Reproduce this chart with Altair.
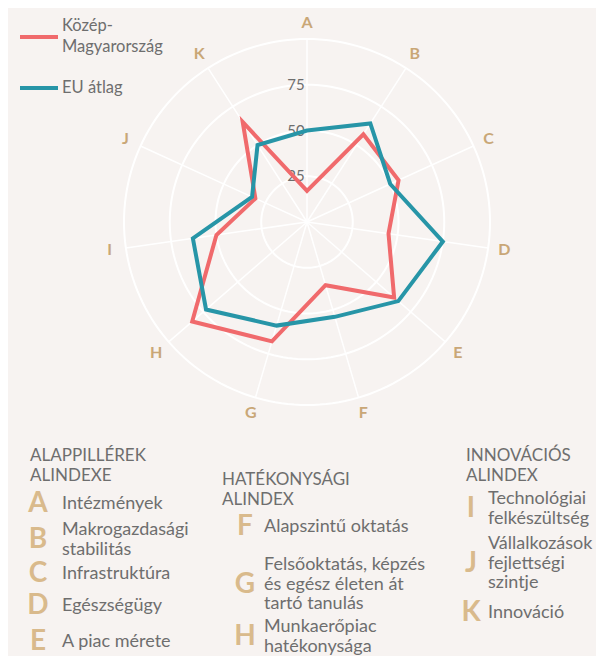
import altair as alt
import pandas as pd

# ---------------- data ----------------
categories = ["A", "B", "C", "D", "E", "F", "G", "H", "I", "J", "K"]
series_names = ["Közép-Magyarország", "EU átlag"]
kozep_values = [17, 57, 55, 45, 63, 36, 68, 83, 50, 31, 65]
eu_values = [50, 64, 50, 75, 66, 54, 59, 73, 63, 33, 50]
ring_values = [25, 50, 75, 100]
tick_values = [25, 50, 75]
tick_labels = ["25", "50", "75"]

group_titles = ["ALAPPILLÉREK\nALINDEXE", "HATÉKONYSÁGI\nALINDEX", "INNOVÁCIÓS\nALINDEX"]
item_texts = [
    "Intézmények",
    "Makrogazdasági\nstabilitás",
    "Infrastruktúra",
    "Egészségügy",
    "A piac mérete",
    "Alapszintű oktatás",
    "Felsőoktatás, képzés\nés egész életen át\ntartó tanulás",
    "Munkaerőpiac\nhatékonysága",
    "Technológiai\nfelkészültség",
    "Vállalkozások\nfejlettségi\nszintje",
    "Innováció",
]
item_groups = [0, 0, 0, 0, 0, 1, 1, 1, 2, 2, 2]

# ---------------- style / layout ----------------
FONT = "Lato"
BG = "#f7f3f1"
RED = "#f06a6c"
TEAL = "#2795a7"
TAN = "#c9a777"
TAN_BIG = "#d9ba8c"
GRAY = "#6e6e6e"
M = 8                      # page margin
W, TOP_H, BOT_H = 588, 432, 216
CX, CY = 307 - M, 222 - M  # radar centre inside top panel
PPU = 1.83                 # pixels per value unit
LABEL_R = 109
x_dom = [-CX / PPU, (W - CX) / PPU]
y_dom = [-(TOP_H - CY) / PPU, CY / PPU]
xs = alt.Scale(domain=x_dom, nice=False, zero=False)
ys = alt.Scale(domain=y_dom, nice=False, zero=False)

# legend layout (page pixels)
LEG_X1, LEG_X2, LEG_TX = 20, 58, 62
leg_line_y = [37, 88]
leg_text_y = [26, 88]
LEG_LH = 21

# bottom block layout (page pixels, first text line)
header_x = [30, 222, 466]
header_y = [456, 480, 456]
letter_x = [38, 245, 471]
text_x = [62, 264, 488]
item_first_y = [504, 530, 574, 606, 642, 527, 565, 627, 499, 544, 613]
HEAD_LH = 20
DESC_LH = 19.5

n = len(categories)
ANG = f"datum.idx * 2 * PI / {n}"


def ux(px):
    return (px - M - CX) / PPU


def uy(py):
    return (CY - (py - M)) / PPU


# ---------------- radar ----------------
line_df = pd.DataFrame({
    "series": [s for s in series_names for _ in categories],
    "cat": categories * 2,
    "idx": list(range(n)) * 2,
    "value": kozep_values + eu_values,
})
cat_df = pd.DataFrame({"cat": categories, "idx": list(range(n))})
ring_df = pd.DataFrame(
    [(r, d) for r in ring_values for d in range(0, 360, 2)], columns=["ring", "deg"]
)
tick_df = pd.DataFrame({"value": tick_values, "label": tick_labels})

color_scale = alt.Scale(domain=series_names, range=[RED, TEAL])

rings = alt.Chart(ring_df).transform_calculate(
    a="datum.deg * PI / 180",
    x="datum.ring * sin(datum.a)",
    y="datum.ring * cos(datum.a)",
).mark_line(interpolate="linear-closed", color="white", strokeWidth=2).encode(
    x=alt.X("x:Q", scale=xs, axis=None),
    y=alt.Y("y:Q", scale=ys, axis=None),
    detail="ring:N",
    order="deg:Q",
)

spokes = alt.Chart(cat_df).transform_calculate(
    a=ANG,
    x0="0",
    y0="0",
    x2=f"{max(ring_values)} * sin(datum.a)",
    y2=f"{max(ring_values)} * cos(datum.a)",
).mark_rule(color="white", strokeWidth=1.5).encode(
    x=alt.X("x0:Q", scale=xs, axis=None),
    y=alt.Y("y0:Q", scale=ys, axis=None),
    x2="x2:Q",
    y2="y2:Q",
)

lines = alt.Chart(line_df).transform_calculate(
    a=ANG,
    x="datum.value * sin(datum.a)",
    y="datum.value * cos(datum.a)",
).mark_line(interpolate="linear-closed", strokeWidth=4).encode(
    x=alt.X("x:Q", scale=xs, axis=None),
    y=alt.Y("y:Q", scale=ys, axis=None),
    color=alt.Color("series:N", scale=color_scale, legend=None),
    order="idx:Q",
)

cat_labels = alt.Chart(cat_df).transform_calculate(
    a=ANG,
    x=f"{LABEL_R} * sin(datum.a)",
    y=f"{LABEL_R} * cos(datum.a)",
).mark_text(font=FONT, fontSize=16, fontWeight="bold", color=TAN, align="center", baseline="middle").encode(
    x=alt.X("x:Q", scale=xs, axis=None),
    y=alt.Y("y:Q", scale=ys, axis=None),
    text="cat:N",
)

ticks = alt.Chart(tick_df).transform_calculate(x0="0").mark_text(
    font=FONT, fontSize=15, color=GRAY, align="center", baseline="middle", dx=-11
).encode(
    x=alt.X("x0:Q", scale=xs, axis=None),
    y=alt.Y("value:Q", scale=ys, axis=None),
    text="label:N",
)

# legend (drawn with the same colour scale)
leg_df = pd.DataFrame({
    "series": series_names,
    "label": [s.replace("-", "-\n") for s in series_names],
    "x1": [ux(LEG_X1)] * len(series_names),
    "x2": [ux(LEG_X2)] * len(series_names),
    "xt": [ux(LEG_TX)] * len(series_names),
    "yl": [uy(v) for v in leg_line_y],
    "yt": [uy(v) for v in leg_text_y],
})
leg_lines = alt.Chart(leg_df).mark_rule(strokeWidth=4).encode(
    x=alt.X("x1:Q", scale=xs, axis=None),
    x2="x2:Q",
    y=alt.Y("yl:Q", scale=ys, axis=None),
    color=alt.Color("series:N", scale=color_scale, legend=None),
)
leg_text = alt.Chart(leg_df).mark_text(
    font=FONT, fontSize=16.5, color=GRAY, align="left", baseline="middle",
    lineBreak="\n", lineHeight=LEG_LH,
).encode(
    x=alt.X("xt:Q", scale=xs, axis=None),
    y=alt.Y("yt:Q", scale=ys, axis=None),
    text="label:N",
)

radar = alt.layer(rings, spokes, ticks, lines, cat_labels, leg_lines, leg_text).properties(
    width=W, height=TOP_H
)

# ---------------- bottom explanatory block ----------------
top0 = M + TOP_H
n_lines = [t.count("\n") + 1 for t in item_texts]
head_df = pd.DataFrame({
    "text": group_titles,
    "px": [v - M for v in header_x],
    "py": [v - top0 for v in header_y],
})
letter_df = pd.DataFrame({
    "text": categories,
    "px": [letter_x[g] - M for g in item_groups],
    "py": [y + (k - 1) * DESC_LH / 2 - top0 for y, k in zip(item_first_y, n_lines)],
})
desc_df = pd.DataFrame({
    "text": item_texts,
    "px": [text_x[g] - M for g in item_groups],
    "py": [v - top0 for v in item_first_y],
})


def pos():
    return dict(x=alt.X("px:Q", scale=None, axis=None), y=alt.Y("py:Q", scale=None, axis=None))


heads = alt.Chart(head_df).mark_text(
    font=FONT, fontSize=17, color=GRAY, align="left", baseline="middle",
    lineBreak="\n", lineHeight=HEAD_LH,
).encode(text="text:N", **pos())
letters = alt.Chart(letter_df).mark_text(
    font=FONT, fontSize=28, fontWeight="bold", color=TAN_BIG, align="center", baseline="middle"
).encode(text="text:N", **pos())
descs = alt.Chart(desc_df).mark_text(
    font=FONT, fontSize=18, color=GRAY, align="left", baseline="middle",
    lineBreak="\n", lineHeight=DESC_LH,
).encode(text="text:N", **pos())

bottom = alt.layer(heads, letters, descs).properties(width=W, height=BOT_H)

chart = alt.vconcat(radar, bottom, spacing=0, bounds="flush").properties(
    padding=0, background=BG
).configure_view(stroke=None).configure_concat(spacing=0)

chart.save("out.html", embed_options={"renderer": "svg", "actions": False})
